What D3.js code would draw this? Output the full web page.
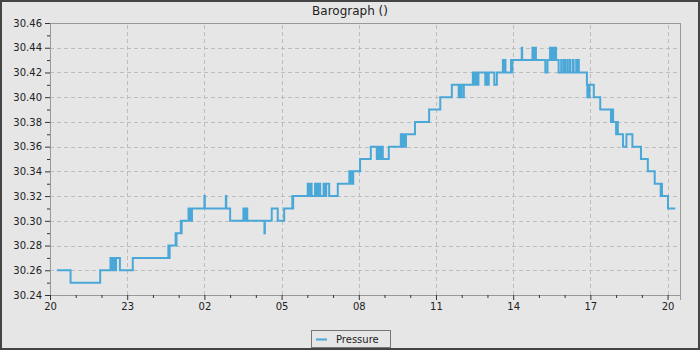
<!DOCTYPE html>
<html>
<head>
<meta charset="utf-8">
<script src="https://cdn.jsdelivr.net/npm/d3@7"></script>
<style>
  body { margin: 0; background: #fff; }
  svg { display: block; font-family: "DejaVu Sans", sans-serif; }
</style>
</head>
<body>
<div id="chart"></div>
<script>
// readings as "HH:MM" (rolling over midnight) and inHg values
const times = [
  "20:16","20:48","21:57","22:21","22:25","22:27","22:30","22:34","22:43","23:13",
  "00:36","00:37","00:39","00:53","00:54","00:55","01:05","01:06","01:07","01:23",
  "01:25","01:27","01:29","01:31","02:00","02:01","02:50","02:51","03:00","03:31",
  "03:33","03:35","03:37","03:39","03:40","04:20","04:21","04:37","04:51","05:06",
  "05:25","05:26","05:27","06:01","06:03","06:05","06:07","06:09","06:10","06:18",
  "06:21","06:24","06:27","06:29","06:30","06:38","06:42","06:44","06:51","07:11",
  "07:38","07:41","07:43","07:45","07:47","08:03","08:28","08:42","08:44","08:46",
  "08:48","08:50","08:52","08:56","09:10","09:38","09:40","09:42","09:44","09:46",
  "09:48","09:50","10:11","10:44","11:10","11:37","11:53","11:55","11:57","11:59",
  "12:04","12:05","12:26","12:28","12:30","12:32","12:34","12:38","12:39","12:55",
  "12:58","13:00","13:03","13:16","13:22","13:36","13:38","13:40","13:42","13:55",
  "13:57","13:58","14:20","14:21","14:45","14:47","14:49","14:53","15:15","15:20",
  "15:26","15:28","15:30","15:32","15:34","15:36","15:38","15:40","15:46","15:52",
  "15:53","15:58","16:01","16:06","16:07","16:12","16:13","16:19","16:21","16:27",
  "16:29","16:31","16:33","16:52","16:53","16:55",
  "16:57","16:58","17:08","17:23","17:48","17:50","17:53","18:00","18:02","18:04",
  "18:16","18:24","18:38","18:58","19:14","19:30","19:44","19:45","19:47","20:01",
  "20:18"
];
const pressure = [
  30.26,30.25,30.26,30.27,30.26,30.27,30.26,30.27,30.26,30.27,
  30.28,30.27,30.28,30.29,30.28,30.29,30.30,30.29,30.30,30.31,
  30.30,30.31,30.30,30.31,30.32,30.31,30.32,30.31,30.30,30.31,
  30.30,30.31,30.30,30.31,30.30,30.29,30.30,30.31,30.30,30.31,
  30.32,30.31,30.32,30.33,30.32,30.33,30.32,30.33,30.32,30.33,
  30.32,30.33,30.32,30.33,30.32,30.33,30.32,30.33,30.32,30.33,
  30.34,30.33,30.34,30.33,30.34,30.35,30.36,30.35,30.36,30.35,
  30.36,30.35,30.36,30.35,30.36,30.37,30.36,30.37,30.36,30.37,
  30.36,30.37,30.38,30.39,30.40,30.41,30.40,30.41,30.40,30.41,
  30.40,30.41,30.42,30.41,30.42,30.41,30.42,30.41,30.42,30.41,
  30.42,30.41,30.42,30.41,30.42,30.43,30.42,30.43,30.42,30.43,
  30.42,30.43,30.44,30.43,30.44,30.43,30.44,30.43,30.42,30.43,
  30.44,30.43,30.44,30.43,30.44,30.43,30.44,30.43,30.42,30.43,
  30.42,30.43,30.42,30.43,30.42,30.43,30.42,30.43,30.42,30.43,
  30.42,30.43,30.42,30.41,30.40,30.41,
  30.40,30.41,30.40,30.39,30.38,30.39,30.38,30.37,30.38,30.37,
  30.36,30.37,30.36,30.35,30.34,30.33,30.32,30.33,30.32,30.31,
  30.31
];
const yTicks = [30.24,30.26,30.28,30.30,30.32,30.34,30.36,30.38,30.40,30.42,30.44,30.46];
const seriesName = "Pressure";
const title = "Barograph ()";

const width = 700, height = 350;
const margin = {top: 23, right: 20, bottom: 55, left: 50};

// build dates, rolling the day forward at midnight
let day = 0, prev = -1;
const data = times.map((t, i) => {
  const [h, m] = t.split(":").map(Number);
  const mins = h * 60 + m;
  if (mins < prev) day++;
  prev = mins;
  return {date: new Date(2024, 0, 1 + day, h, m), value: pressure[i]};
});
const start = new Date(2024, 0, 1, 20, 0);
const end = new Date(2024, 0, 2, 20, 29);

const svg = d3.select("#chart").append("svg")
  .attr("width", width)
  .attr("height", height);

svg.append("rect")
  .attr("x", 1).attr("y", 1)
  .attr("width", width - 2).attr("height", height - 2)
  .attr("fill", "#e6e6e6")
  .attr("stroke", "#444").attr("stroke-width", 2);

const x = d3.scaleTime()
  .domain([start, end])
  .range([margin.left, width - margin.right]);
const y = d3.scaleLinear()
  .domain([30.24, 30.46])
  .range([height - margin.bottom, margin.top]);

const x0 = margin.left, x1 = width - margin.right;
const y0 = height - margin.bottom, y1 = margin.top;

// every third hour counted from the start, hourly minor ticks in between
const majorX = d3.timeHour.range(start, end, 3);
const minorX = d3.timeHour.range(start, end).filter((d, i) => i % 3 !== 0);

// grid
svg.append("g")
  .selectAll("line")
  .data(yTicks.slice(1, -1))
  .join("line")
  .attr("x1", x0).attr("x2", x1)
  .attr("y1", d => Math.round(y(d)) + 0.5).attr("y2", d => Math.round(y(d)) + 0.5)
  .attr("stroke", "#bdbdbd").attr("stroke-dasharray", "4,3");
svg.append("g")
  .selectAll("line")
  .data(majorX.slice(1))
  .join("line")
  .attr("y1", y0).attr("y2", y1)
  .attr("x1", d => Math.round(x(d)) + 0.5).attr("x2", d => Math.round(x(d)) + 0.5)
  .attr("stroke", "#bdbdbd").attr("stroke-dasharray", "4,3");

// frame
svg.append("rect")
  .attr("x", x0 + 0.5).attr("y", y1 + 0.5)
  .attr("width", x1 - x0).attr("height", y0 - y1)
  .attr("fill", "none").attr("stroke", "#999");

// axes
svg.append("g")
  .attr("transform", `translate(${x0},0)`)
  .call(d3.axisLeft(y).tickValues(yTicks).tickFormat(d3.format(".2f")).tickSize(5).tickPadding(3));
svg.append("g")
  .attr("transform", `translate(${x0},0)`)
  .call(d3.axisLeft(y).tickValues(d3.range(30.25, 30.46, 0.02)).tickFormat("").tickSize(3))
  .call(g => g.select(".domain").remove());

svg.append("g")
  .attr("transform", `translate(0,${y0})`)
  .call(d3.axisBottom(x).tickValues(majorX).tickFormat(d3.timeFormat("%H")).tickSize(5).tickPadding(3));
svg.append("g")
  .attr("transform", `translate(0,${y0})`)
  .call(d3.axisBottom(x).tickValues(minorX).tickFormat("").tickSize(3))
  .call(g => g.select(".domain").remove());

svg.selectAll(".domain").attr("stroke", "#999");
svg.selectAll(".tick line").attr("stroke", "#333");
svg.selectAll(".tick text").attr("fill", "#222").style("font-size", "10px").style("font-family", "DejaVu Sans");

// line
const line = d3.line()
  .x(d => x(d.date))
  .y(d => y(d.value))
  .curve(d3.curveStepAfter);
svg.append("path")
  .datum(data)
  .attr("fill", "none")
  .attr("stroke", "#4aa8d8")
  .attr("stroke-width", 2)
  .attr("d", line);

// title
svg.append("text")
  .attr("x", width / 2).attr("y", 15)
  .attr("text-anchor", "middle")
  .attr("fill", "#222")
  .style("font-size", "12px")
  .text(title);

// legend
const lg = svg.append("g").attr("transform", "translate(311,330)");
lg.append("rect")
  .attr("x", 0.5).attr("y", 0.5).attr("width", 79).attr("height", 17)
  .attr("fill", "#e6e6e6").attr("stroke", "#777");
lg.append("line")
  .attr("x1", 5).attr("x2", 16).attr("y1", 9.5).attr("y2", 9.5)
  .attr("stroke", "#4aa8d8").attr("stroke-width", 2);
lg.append("text")
  .attr("x", 25).attr("y", 12.5)
  .attr("fill", "#222")
  .style("font-size", "10px")
  .text(seriesName);
</script>
</body>
</html>
